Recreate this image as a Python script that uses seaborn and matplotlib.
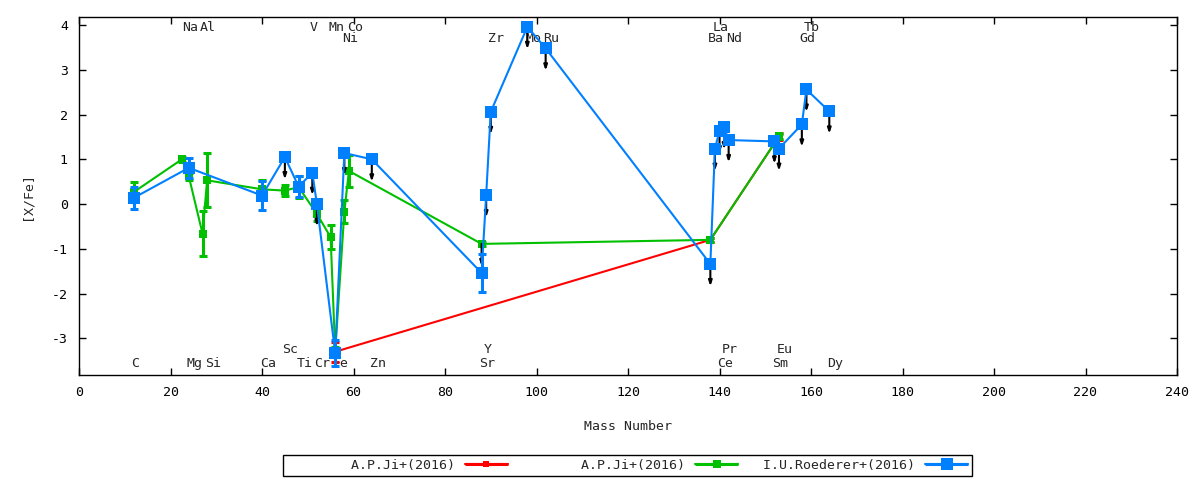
"""[X/Fe] against mass number for the A.P.Ji and I.U.Roederer abundance sets"""
import matplotlib

matplotlib.use("Agg")
import numpy as np
import pandas as pd
import seaborn as sns
from matplotlib import pyplot as plt
from matplotlib.container import ErrorbarContainer
from matplotlib.legend_handler import HandlerErrorbar

# A.P.Ji+(2016), first set (red)
ji_a_mass = [56, 138, 153]
ji_a_xfe = [-3.30, -0.80, 1.51]
ji_a_err = [0.22, 0.05, 0.08]
ji_a_upper = [0, 0, 0]

# A.P.Ji+(2016), second set (green)
ji_b_mass = [12, 22.5, 24, 27, 28, 40, 45, 48, 52, 55, 56, 58, 59, 88, 138, 153]
ji_b_xfe = [0.27, 1.00, 0.62, -0.66, 0.53, 0.33, 0.30, 0.38, -0.22, -0.74,
            -3.30, -0.17, 0.74, -0.89, -0.80, 1.51]
ji_b_err = [0.23, 0.05, 0.08, 0.50, 0.60, 0.20, 0.12, 0.25, 0.15, 0.27,
            0.10, 0.25, 0.35, 0.05, 0.05, 0.05]
ji_b_upper = [0, 0, 0, 0, 0, 0, 0, 0, 0, 0, 0, 0, 0, 1, 0, 0]

# I.U.Roederer+(2016) (blue)
roe_mass = [12, 24, 40, 45, 48, 51, 52, 56, 58, 64, 88, 89, 90, 98, 102,
            138, 139, 140, 141, 142, 152, 153, 158, 159, 164]
roe_xfe = [0.14, 0.81, 0.19, 1.05, 0.39, 0.70, 0.00, -3.33, 1.14, 1.00,
           -1.54, 0.20, 2.06, 3.96, 3.48, -1.34, 1.24, 1.63, 1.72, 1.43,
           1.40, 1.24, 1.78, 2.56, 2.07]
roe_err = [0.25, 0.23, 0.33, 0, 0.24, 0, 0, 0.30, 0, 0, 0.43, 0, 0, 0, 0,
           0, 0, 0, 0, 0, 0, 0, 0, 0, 0]
roe_upper = [0, 0, 0, 1, 0, 1, 1, 0, 1, 1, 0, 1, 1, 1, 1,
             1, 1, 1, 1, 1, 1, 1, 1, 1, 1]

# element names written at the top and bottom of the frame
top1_names = ["Na", "Al", "V", "Mn", "Co", "La", "Tb"]
top1_mass = [23, 27, 51, 55, 59, 139, 159]
top2_names = ["Ni", "Zr", "Mo", "Ru", "Ba", "Nd", "Gd"]
top2_mass = [58, 90, 98, 102, 138, 142, 158]
bot1_names = ["Sc", "Y", "Pr", "Eu"]
bot1_mass = [45, 89, 141, 153]
bot2_names = ["C", "Mg", "Si", "Ca", "Ti", "Cr", "Fe", "Zn", "Sr", "Ce", "Sm", "Dy"]
bot2_mass = [12, 24, 28, 40, 48, 52, 56, 64, 88, 140, 152, 164]

labels = ["A.P.Ji+(2016)", "A.P.Ji+(2016)", "I.U.Roederer+(2016)"]
colors = ["#ff0000", "#00c000", "#0080ff"]

FS = 9.5
LIMIT_LEN = 0.5


def frame(mass, xfe, err, upper) -> pd.DataFrame:
    return pd.DataFrame({"mass": mass, "xfe": xfe, "err": err, "upper": upper})


def plot_series(df, ax, color, ms, capsize, z):
    sns.lineplot(x="mass", y="xfe", data=df, color=color, lw=1.5, marker="s",
                 markersize=ms, markeredgewidth=0, estimator=None, sort=True,
                 legend=False, ax=ax, zorder=z)
    e = df[df["err"] > 0]
    ax.errorbar(e["mass"], e["xfe"], yerr=e["err"], fmt="none", ecolor=color,
                elinewidth=2.2, capsize=capsize, capthick=2.2, zorder=z)


def plot_limits(df, ax):
    for _, r in df[df["upper"] > 0].iterrows():
        ax.annotate("", xy=(r["mass"], r["xfe"] - LIMIT_LEN), xytext=(r["mass"], r["xfe"]),
                    arrowprops=dict(arrowstyle="-|>,head_length=0.3,head_width=0.1",
                                    color="black", lw=1.5, shrinkA=0, shrinkB=0),
                    zorder=3.5)


def plot_names(ax, names, mass, y):
    for n, m in zip(names, mass):
        ax.text(m - 0.5, y, n, ha="left", va="baseline", fontsize=FS, zorder=1)


sns.set_style("ticks")
plt.rcParams["font.family"] = ["DejaVu Sans Mono"]
plt.rcParams["axes.unicode_minus"] = False

fig = plt.figure(figsize=(12, 4.8), dpi=100)
ax = fig.add_axes([79 / 1200, 1 - 375 / 480, 1098 / 1200, 358 / 480])

red = frame(ji_a_mass, ji_a_xfe, ji_a_err, ji_a_upper)
green = frame(ji_b_mass, ji_b_xfe, ji_b_err, ji_b_upper)
blue = frame(roe_mass, roe_xfe, roe_err, roe_upper)

plot_series(red, ax, colors[0], 4.5, 3, 2)
plot_series(green, ax, colors[1], 6, 3, 3)
plot_limits(green, ax)
plot_limits(blue, ax)
plot_series(blue, ax, colors[2], 8, 2.6, 4)

plot_names(ax, top1_names, top1_mass, 3.87)
plot_names(ax, top2_names, top2_mass, 3.62)
plot_names(ax, bot1_names, bot1_mass, -3.32)
plot_names(ax, bot2_names, bot2_mass, -3.64)

ax.set_xlim(0, 240)
ax.set_ylim(-3.82, 4.18)
ax.set_xticks(range(0, 241, 20))
ax.set_yticks(range(-3, 5))
ax.tick_params(direction="in", top=True, right=True, length=5, width=1,
               labelsize=FS, pad=8, colors="black")
for s in ax.spines.values():
    s.set_linewidth(1)
    s.set_color("black")
ax.set_xlabel("Mass Number", fontsize=FS, labelpad=15)
ax.set_ylabel("[X/Fe]", fontsize=FS, labelpad=13)

# legend proxies: horizontal sample with end caps, as in the reference
proxies = []
for c, ms in zip(colors, [4.5, 6, 8]):
    proxies.append(ax.errorbar([], [], xerr=[], fmt="s-", color=c, lw=1.5, ms=ms,
                               markeredgewidth=0, elinewidth=2.2, capsize=4, capthick=2.2))
width = max(len(s) for s in labels) + 2
fig.legend(proxies, [s.rjust(width) for s in labels], loc="center",
           bbox_to_anchor=(627.5 / 1200, 1 - 465.5 / 480), ncol=3, markerfirst=False,
           fontsize=FS, frameon=True, fancybox=False, framealpha=1, edgecolor="black",
           borderpad=0.3, handlelength=3.26, handletextpad=0.76, columnspacing=0.7,
           handler_map={ErrorbarContainer: HandlerErrorbar(xerr_size=1.63)})
fig.legends[0].get_frame().set_linewidth(1)

fig.savefig("out.png", dpi=100)
